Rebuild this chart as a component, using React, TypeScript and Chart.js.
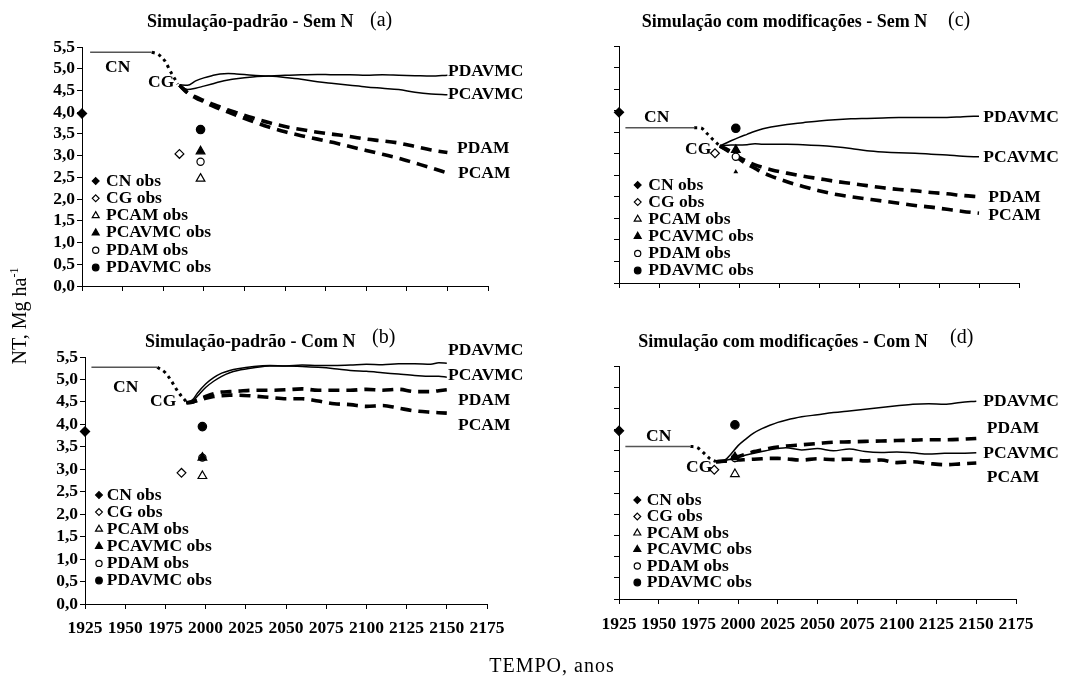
import React, { useEffect, useRef } from "react";
import { Chart, registerables } from "chart.js";
Chart.register(...registerables);

const SERIF = '"Liberation Serif", "Times New Roman", Times, serif';

const X_TICKS = [1925, 1950, 1975, 2000, 2025, 2050, 2075, 2100, 2125, 2150, 2175];
const Y_TICKS = [0, 0.5, 1, 1.5, 2, 2.5, 3, 3.5, 4, 4.5, 5, 5.5];

const OBS_LABELS = ["CN obs", "CG obs", "PCAM obs", "PCAVMC obs", "PDAM obs", "PDAVMC obs"];
const OBS_YEARS = [1925, 1985, 1998, 1998, 1998, 1998];
const SERIES_NAMES = ["PDAVMC", "PCAVMC", "PDAM", "PCAM"];

// ---- Panel (a): Simulação-padrão - Sem N
const CN_YEARS_A = [1930, 1968];
const CN_A = [5.38, 5.38];
const TR_YEARS_A = [1968, 1972, 1976, 1980, 1984];
const TR_A = [5.38, 5.33, 5.18, 4.9, 4.65];
const SIM_YEARS_A = [1985, 1990, 1995, 2000, 2005, 2010, 2015, 2020, 2030, 2040, 2050, 2060, 2070, 2080, 2090, 2100, 2110, 2120, 2130, 2140, 2150];
const PDAVMC_A = [4.63, 4.52, 4.55, 4.6, 4.65, 4.7, 4.74, 4.77, 4.81, 4.83, 4.85, 4.86, 4.87, 4.86, 4.86, 4.85, 4.86, 4.85, 4.84, 4.83, 4.85];
const PCAVMC_A = [4.63, 4.62, 4.72, 4.79, 4.84, 4.88, 4.89, 4.88, 4.85, 4.83, 4.8, 4.76, 4.7, 4.66, 4.62, 4.58, 4.55, 4.52, 4.46, 4.42, 4.4];
const PDAM_A = [4.62, 4.45, 4.35, 4.27, 4.19, 4.12, 4.05, 3.99, 3.87, 3.76, 3.67, 3.6, 3.54, 3.49, 3.44, 3.38, 3.34, 3.29, 3.21, 3.13, 3.07];
const PCAM_A = [4.62, 4.44, 4.33, 4.24, 4.15, 4.07, 4.0, 3.93, 3.79, 3.66, 3.55, 3.46, 3.38, 3.3, 3.21, 3.12, 3.03, 2.94, 2.83, 2.72, 2.6];
const OBS_A = [3.97, 3.04, 2.47, 3.1, 2.86, 3.6];

// ---- Panel (b): Simulação-padrão - Com N
const CN_YEARS_B = [1929, 1970];
const CN_B = [5.27, 5.27];
const TR_YEARS_B = [1970, 1975, 1979, 1983, 1988];
const TR_B = [5.27, 5.15, 4.95, 4.72, 4.5];
const SIM_YEARS_B = [1988, 1992, 1995, 2000, 2005, 2010, 2015, 2020, 2030, 2040, 2050, 2060, 2070, 2080, 2090, 2100, 2110, 2120, 2130, 2140, 2145, 2150];
const PDAVMC_B = [4.48, 4.55, 4.7, 4.9, 5.04, 5.14, 5.2, 5.24, 5.29, 5.31, 5.3, 5.32, 5.31, 5.31, 5.32, 5.34, 5.33, 5.35, 5.35, 5.34, 5.37, 5.36];
const PCAVMC_B = [4.48, 4.52, 4.63, 4.82, 4.96, 5.07, 5.15, 5.2, 5.26, 5.3, 5.3, 5.29, 5.27, 5.24, 5.2, 5.18, 5.15, 5.12, 5.09, 5.07, 5.07, 5.05];
const PDAM_B = [4.48, 4.5, 4.55, 4.62, 4.68, 4.72, 4.73, 4.74, 4.76, 4.76, 4.77, 4.79, 4.76, 4.76, 4.76, 4.78, 4.76, 4.78, 4.73, 4.73, 4.75, 4.77];
const PCAM_B = [4.48, 4.5, 4.53, 4.58, 4.62, 4.64, 4.65, 4.65, 4.63, 4.6, 4.57, 4.57, 4.52, 4.46, 4.44, 4.4, 4.42, 4.36, 4.3, 4.27, 4.26, 4.25];
const OBS_B = [3.84, 2.92, 2.85, 3.26, 3.26, 3.95];

// ---- Panel (c): Simulação com modificações - Sem N
const CN_YEARS_C = [1929, 1972];
const CN_C = [3.6, 3.6];
const TR_YEARS_C = [1972, 1976, 1980, 1984, 1988];
const TR_C = [3.6, 3.6, 3.47, 3.32, 3.18];
const SIM_YEARS_C = [1988, 1995, 2000, 2005, 2010, 2015, 2020, 2030, 2040, 2050, 2060, 2070, 2080, 2090, 2100, 2110, 2120, 2130, 2140, 2150];
const PDAVMC_C = [3.18, 3.3, 3.38, 3.45, 3.52, 3.58, 3.62, 3.68, 3.72, 3.76, 3.79, 3.81, 3.82, 3.83, 3.84, 3.84, 3.84, 3.84, 3.86, 3.87];
const PCAVMC_C = [3.18, 3.2, 3.2, 3.21, 3.23, 3.22, 3.22, 3.22, 3.21, 3.19, 3.16, 3.12, 3.07, 3.04, 3.02, 3.01, 2.99, 2.97, 2.94, 2.93];
const PDAM_C = [3.18, 3.05, 2.92, 2.82, 2.74, 2.68, 2.63, 2.55, 2.48, 2.42, 2.36, 2.31, 2.26, 2.21, 2.17, 2.14, 2.1, 2.07, 2.03, 2.0];
const PCAM_C = [3.18, 3.02, 2.88, 2.76, 2.66, 2.56, 2.48, 2.35, 2.24, 2.14, 2.06, 2.0, 1.95, 1.9, 1.85, 1.8, 1.76, 1.71, 1.66, 1.62];
const OBS_C = [3.96, 3.01, 2.58, 3.09, 2.93, 3.59];

// ---- Panel (d): Simulação com modificações - Com N
const CN_YEARS_D = [1929, 1970];
const CN_D = [3.6, 3.6];
const TR_YEARS_D = [1970, 1974, 1978, 1982, 1986];
const TR_D = [3.6, 3.58, 3.46, 3.32, 3.24];
const SIM_YEARS_D = [1986, 1991, 1995, 2000, 2005, 2010, 2015, 2020, 2025, 2030, 2040, 2050, 2060, 2070, 2080, 2090, 2100, 2110, 2120, 2130, 2140, 2150];
const PDAVMC_D = [3.24, 3.26, 3.4, 3.62, 3.78, 3.92, 4.02, 4.1, 4.17, 4.22, 4.3, 4.35, 4.4, 4.44, 4.48, 4.52, 4.56, 4.6, 4.61, 4.6, 4.64, 4.67];
const PCAVMC_D = [3.24, 3.26, 3.3, 3.35, 3.4, 3.44, 3.48, 3.52, 3.55, 3.57, 3.52, 3.55, 3.5, 3.54, 3.48, 3.46, 3.47, 3.45, 3.42, 3.44, 3.44, 3.45];
const PDAM_D = [3.24, 3.26, 3.3, 3.36, 3.42, 3.48, 3.52, 3.56, 3.59, 3.61, 3.64, 3.67, 3.7, 3.71, 3.72, 3.73, 3.74, 3.75, 3.76, 3.76, 3.77, 3.79];
const PCAM_D = [3.24, 3.25, 3.26, 3.28, 3.29, 3.3, 3.31, 3.32, 3.32, 3.31, 3.28, 3.31, 3.29, 3.3, 3.26, 3.28, 3.22, 3.24, 3.2, 3.17, 3.19, 3.21];
const OBS_D = [3.97, 3.05, 2.95, 3.35, 3.33, 4.11];

// ---- styles (not data)
const OBS_STYLE = [
  { shape: "rectRot", filled: true, r: 4.6, lr: 3.4 },
  { shape: "rectRot", filled: false, r: 4.4, lr: 3.4 },
  { shape: "triangle", filled: false, r: 5, lr: 4 },
  { shape: "triangle", filled: true, r: 5, lr: 4 },
  { shape: "circle", filled: false, r: 3.6, lr: 3.1 },
  { shape: "circle", filled: true, r: 4.2, lr: 3.3 },
];

type Lbl = { t: string; x: number; y: number };
type PanelDef = {
  id: string;
  left: number; top: number; w: number; h: number;
  pad: { left: number; right: number; top: number; bottom: number };
  yW: number; xH: number; showX: boolean; showY: boolean; xPad: number;
  title: string; tag: string; titleX: number; titleY: number; tagX: number; tagY: number;
  legend: { mx: number; tx: number; y0: number; step: number };
  labels: Lbl[];
  cnYears: number[]; cn: number[]; trYears: number[]; tr: number[];
  simYears: number[]; sims: number[][]; obs: number[]; obsR?: number[];
};

const PANELS: PanelDef[] = [
  {
    id: "a", left: 0, top: 0, w: 540, h: 320,
    pad: { left: 42, right: 52, top: 47, bottom: 24 }, yW: 40, xH: 10, showX: false, showY: true, xPad: 9,
    title: "Simulação-padrão - Sem N", tag: "(a)", titleX: 147, titleY: 22, tagX: 370, tagY: 21,
    legend: { mx: 95.7, tx: 106, y0: 181, step: 17.3 },
    labels: [
      { t: SERIES_NAMES[0], x: 448, y: 71 }, { t: SERIES_NAMES[1], x: 448, y: 94 },
      { t: SERIES_NAMES[2], x: 457, y: 148 }, { t: SERIES_NAMES[3], x: 458, y: 173 },
      { t: "CN", x: 105, y: 67 }, { t: "CG", x: 148, y: 82 },
    ],
    cnYears: CN_YEARS_A, cn: CN_A, trYears: TR_YEARS_A, tr: TR_A,
    simYears: SIM_YEARS_A, sims: [PDAVMC_A, PCAVMC_A, PDAM_A, PCAM_A], obs: OBS_A,
  },
  {
    id: "b", left: 0, top: 320, w: 540, h: 359,
    pad: { left: 45, right: 53, top: 37, bottom: 35 }, yW: 40, xH: 40, showX: true, showY: true, xPad: 9,
    title: "Simulação-padrão - Com N", tag: "(b)", titleX: 145, titleY: 22, tagX: 372, tagY: 18,
    legend: { mx: 99, tx: 106.7, y0: 175, step: 17.1 },
    labels: [
      { t: SERIES_NAMES[0], x: 448, y: 30 }, { t: SERIES_NAMES[1], x: 448, y: 55 },
      { t: SERIES_NAMES[2], x: 458, y: 80 }, { t: SERIES_NAMES[3], x: 458, y: 105 },
      { t: "CN", x: 113, y: 67 }, { t: "CG", x: 150, y: 81 },
    ],
    cnYears: CN_YEARS_B, cn: CN_B, trYears: TR_YEARS_B, tr: TR_B,
    simYears: SIM_YEARS_B, sims: [PDAVMC_B, PCAVMC_B, PDAM_B, PCAM_B], obs: OBS_B,
  },
  {
    id: "c", left: 540, top: 0, w: 539, h: 320,
    pad: { left: 69, right: 60, top: 46, bottom: 27 }, yW: 10, xH: 10, showX: false, showY: false, xPad: 9,
    title: "Simulação com modificações - Sem N", tag: "(c)", titleX: 101.7, titleY: 22, tagX: 408, tagY: 21,
    legend: { mx: 97.7, tx: 108.3, y0: 185, step: 17.1 },
    labels: [
      { t: SERIES_NAMES[0], x: 443.3, y: 117 }, { t: SERIES_NAMES[1], x: 443.3, y: 157 },
      { t: SERIES_NAMES[2], x: 448.3, y: 197 }, { t: SERIES_NAMES[3], x: 448.3, y: 215 },
      { t: "CN", x: 104, y: 117 }, { t: "CG", x: 145, y: 149 },
    ],
    cnYears: CN_YEARS_C, cn: CN_C, trYears: TR_YEARS_C, tr: TR_C,
    simYears: SIM_YEARS_C, sims: [PDAVMC_C, PCAVMC_C, PDAM_C, PCAM_C], obs: OBS_C,
    obsR: [4.6, 4.4, 1.6, 5, 3.6, 4.2],
  },
  {
    id: "d", left: 540, top: 320, w: 539, h: 359,
    pad: { left: 69, right: 63, top: 46, bottom: 40 }, yW: 10, xH: 40, showX: true, showY: false, xPad: 10,
    title: "Simulação com modificações - Com N", tag: "(d)", titleX: 98.3, titleY: 22, tagX: 410, tagY: 18,
    legend: { mx: 97.3, tx: 106.7, y0: 180, step: 16.5 },
    labels: [
      { t: SERIES_NAMES[0], x: 443.3, y: 81 }, { t: SERIES_NAMES[2], x: 446.7, y: 108 },
      { t: SERIES_NAMES[1], x: 443.3, y: 133 }, { t: SERIES_NAMES[3], x: 446.7, y: 157 },
      { t: "CN", x: 106, y: 116 }, { t: "CG", x: 146, y: 147 },
    ],
    cnYears: CN_YEARS_D, cn: CN_D, trYears: TR_YEARS_D, tr: TR_D,
    simYears: SIM_YEARS_D, sims: [PDAVMC_D, PCAVMC_D, PDAM_D, PCAM_D], obs: OBS_D,
  },
];

function pts(xs: number[], ys: number[]) {
  return xs.map((x, i) => ({ x, y: ys[i] }));
}

function drawMarker(ctx: CanvasRenderingContext2D, shape: string, filled: boolean, x: number, y: number, r: number) {
  ctx.beginPath();
  if (shape === "circle") {
    ctx.arc(x, y, r, 0, Math.PI * 2);
  } else if (shape === "rectRot") {
    ctx.moveTo(x, y - r); ctx.lineTo(x + r, y); ctx.lineTo(x, y + r); ctx.lineTo(x - r, y); ctx.closePath();
  } else {
    ctx.moveTo(x, y - r); ctx.lineTo(x + r * 0.866, y + r * 0.5); ctx.lineTo(x - r * 0.866, y + r * 0.5); ctx.closePath();
  }
  ctx.fillStyle = filled ? "#000" : "#fff";
  ctx.fill();
  ctx.lineWidth = 1.2;
  ctx.strokeStyle = "#000";
  ctx.stroke();
}

function buildConfig(p: PanelDef): any {
  const datasets: any[] = [];
  OBS_LABELS.forEach((lab, i) => {
    const st = OBS_STYLE[i];
    datasets.push({
      label: lab,
      data: [{ x: OBS_YEARS[i], y: p.obs[i] }],
      showLine: false,
      pointStyle: st.shape,
      pointRadius: p.obsR ? p.obsR[i] : st.r,
      pointBackgroundColor: st.filled ? "#000" : "#fff",
      pointBorderColor: "#000",
      pointBorderWidth: 1.2,
      clip: false,
    });
  });
  p.sims.forEach((vals, i) => {
    const dashed = i >= 2;
    datasets.push({
      label: SERIES_NAMES[i],
      data: pts(p.simYears, vals),
      showLine: true,
      borderColor: "#000",
      borderWidth: dashed ? 3.6 : 1.5,
      borderDash: dashed ? [11, 7] : [],
      borderCapStyle: "butt",
      pointRadius: 0,
      cubicInterpolationMode: "monotone",
      clip: false,
    });
  });
  datasets.push({
    label: "CN",
    data: pts(p.cnYears, p.cn),
    showLine: true,
    borderColor: "#555",
    borderWidth: 1.5,
    pointRadius: 0,
    clip: false,
  });
  datasets.push({
    label: "CN-CG",
    data: pts(p.trYears, p.tr),
    showLine: true,
    borderColor: "#000",
    borderWidth: 3,
    borderDash: [3, 4],
    pointRadius: 0,
    cubicInterpolationMode: "monotone",
    clip: false,
  });

  const annot = {
    id: "annot" + p.id,
    afterDraw(chart: any) {
      const ctx: CanvasRenderingContext2D = chart.ctx;
      ctx.save();
      ctx.fillStyle = "#000";
      ctx.textBaseline = "middle";
      ctx.textAlign = "left";
      ctx.font = `bold 18px ${SERIF}`;
      ctx.fillText(p.title, p.titleX, p.titleY);
      ctx.font = `20px ${SERIF}`;
      ctx.fillText(p.tag, p.tagX, p.tagY);
      ctx.font = `bold 17.5px ${SERIF}`;
      p.labels.forEach((l) => {
        ctx.fillStyle = "#000";
        ctx.fillText(l.t, l.x, l.y);
      });
      OBS_LABELS.forEach((lab, i) => {
        const y = p.legend.y0 + i * p.legend.step;
        const st = OBS_STYLE[i];
        drawMarker(ctx, st.shape, st.filled, p.legend.mx, y, st.lr);
        ctx.fillStyle = "#000";
        ctx.font = `bold 17.5px ${SERIF}`;
        ctx.fillText(lab, p.legend.tx, y);
      });
      ctx.restore();
    },
  };

  return {
    type: "scatter",
    data: { datasets },
    options: {
      animation: false,
      responsive: false,
      devicePixelRatio: 1,
      events: [],
      layout: { padding: p.pad },
      plugins: { legend: { display: false }, tooltip: { enabled: false }, title: { display: false } },
      scales: {
        x: {
          type: "linear",
          min: X_TICKS[0],
          max: X_TICKS[X_TICKS.length - 1],
          afterBuildTicks: (s: any) => { s.ticks = X_TICKS.map((v) => ({ value: v })); },
          afterFit: (s: any) => { s.height = p.xH; },
          ticks: {
            display: p.showX,
            autoSkip: false,
            maxRotation: 0,
            minRotation: 0,
            padding: p.xPad,
            color: "#000",
            font: { family: SERIF, size: 17.5, weight: "bold" },
            callback: (v: any) => String(v),
          },
          grid: { drawOnChartArea: false, drawTicks: true, tickLength: 5, color: "#000", lineWidth: 1 },
          border: { display: true, color: "#000", width: 1 },
        },
        y: {
          type: "linear",
          min: Y_TICKS[0],
          max: Y_TICKS[Y_TICKS.length - 1],
          afterBuildTicks: (s: any) => { s.ticks = Y_TICKS.map((v) => ({ value: v })); },
          afterFit: (s: any) => { s.width = p.yW; },
          ticks: {
            display: p.showY,
            autoSkip: false,
            padding: 2,
            color: "#000",
            font: { family: SERIF, size: 17.5, weight: "bold" },
            callback: (v: any) => Number(v).toFixed(1).replace(".", ","),
          },
          grid: { drawOnChartArea: false, drawTicks: true, tickLength: 5, color: "#000", lineWidth: 1 },
          border: { display: true, color: "#000", width: 1 },
        },
      },
    },
    plugins: [annot],
  };
}

function Panel({ def }: { def: PanelDef }) {
  const ref = useRef<HTMLCanvasElement>(null);
  useEffect(() => {
    if (!ref.current) return;
    const chart = new Chart(ref.current, buildConfig(def));
    return () => chart.destroy();
  }, [def]);
  return (
    <canvas
      ref={ref}
      width={def.w}
      height={def.h}
      style={{ position: "absolute", left: def.left, top: def.top, width: def.w, height: def.h }}
    />
  );
}

export default function App() {
  return (
    <div style={{ position: "fixed", left: 0, top: 0, width: 1079, height: 679, background: "#fff", fontFamily: SERIF, overflow: "hidden" }}>
      {PANELS.map((p) => (
        <Panel key={p.id} def={p} />
      ))}
      <div
        style={{
          position: "absolute", left: 19 - 70, top: 316 - 11, width: 140, height: 22,
          transform: "rotate(-90deg)", textAlign: "center", fontSize: 20, lineHeight: "22px",
          whiteSpace: "nowrap", color: "#000",
        }}
      >
        NT, Mg ha<span style={{ fontSize: 12, position: "relative", top: -8 }}>-1</span>
      </div>
      <div
        style={{
          position: "absolute", left: 552 - 120, top: 665 - 12, width: 240, height: 24,
          textAlign: "center", fontSize: 20, lineHeight: "24px", letterSpacing: 1,
          whiteSpace: "nowrap", color: "#000",
        }}
      >
        TEMPO, anos
      </div>
    </div>
  );
}
